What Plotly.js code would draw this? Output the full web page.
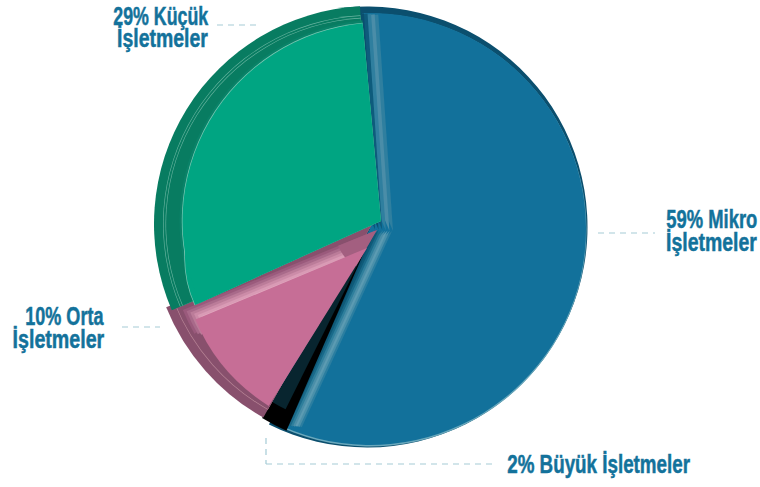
<!DOCTYPE html>
<html><head><meta charset="utf-8">
<script src="https://cdn.plot.ly/plotly-3.0.1.min.js"></script>
<style>html,body{margin:0;padding:0;background:#fff}#c{width:760px;height:487px}
.annotation-text{stroke:#13729b;stroke-width:0.5px}</style>
</head><body><div id="c"></div>
<script>
var categories = ["Mikro İşletmeler","Büyük İşletmeler","Orta İşletmeler","Küçük İşletmeler"];
var sharePct = [59,2,10,29];
var W=760,H=487;
var traces=[];
function wedge(i,cx,cy,r,color,start,f){
  var sweep=sharePct[i]*3.6*(f||1);
  traces.push({type:'pie',sort:false,direction:'clockwise',rotation:(start+720)%360,
    values:[sweep,360-sweep],marker:{colors:[color,'rgba(0,0,0,0)'],line:{width:0}},
    textinfo:'none',hoverinfo:'skip',showlegend:false,
    domain:{x:[(cx-r)/W,(cx+r)/W],y:[1-(cy+r)/H,1-(cy-r)/H]}});
}
// Blue
wedge(0,367,227,220.5,'#0b4f6e',-6,1);
wedge(0,370,230,216.5,'#6aa8bc',-2,0.985);
wedge(0,370,229,216,'#12719b',-2,0.985);
['#2b7ea0','#4a90aa','#5c9bb2','#4a8ea8','#2f7f9c','#1a6a8a','#0f5a78','#0b4f6e'].forEach(function(c,k){ wedge(0,392-k*2.2,231-k*0.2,216,c,204.7,0.1); });
['#2f7f9f','#4a8da8','#2f7f9f','#0e5b7c','#0a4f6f','#0a4f6f'].forEach(function(c,k){ wedge(0,393-k*3.6,231-k*0.3,217,c,-23,0.09); });
// Black
wedge(1,365,250,197,'#000000',203.5,1.11);
wedge(1,365,250,178,'#08252f',206.5,0.7);
// Pink
wedge(2,372,224,222,'#88506d',209.3,1.075);
wedge(2,372,224,213,'#b89',209.3,1.075);
wedge(2,372,224,212.4,'#88506d',209.3,1.075);
['#9a5a7c','#a86a8a','#bb7c99','#cc8ca8','#d99bb5','#e3a9c0'].forEach(function(c,k){ wedge(2,377-k*2,230+k*3.6,210-k*6.2,c,240.4,0.2); });
wedge(2,377,230,42,'#a35f80',210,1.05);
wedge(2,367,248,186,'#c66e96',211.9,0.985);
// Green
wedge(3,372,224,218,'#087c61',246.7,1.055);
wedge(3,372,224,209,'#6bb6a2',246.7,1.055);
wedge(3,372,224,208.4,'#087c61',246.7,1.055);
wedge(3,372,224,206.5,'#6bb6a2',246.7,1.055);
wedge(3,372,224,205.9,'#087c61',246.7,1.055);
wedge(3,381,221,201.5,'#0a8268',245.7,1.044);
wedge(3,300,257.6,115.7,'#7cc8b4',245.7,0.27);
wedge(3,381,221,199.2,'#7cc8b4',245.7,1.044);
wedge(3,300,257.6,115,'#00a582',245.7,0.27);
wedge(3,381,221,198.5,'#00a582',245.7,1.044);

var blue='#13729b', font='"Liberation Sans",sans-serif';
var labelText=['29% Küçük','İşletmeler','59% Mikro','İşletmeler','10% Orta','İşletmeler','2% Büyük İşletmeler'];
var labelLeft=[113,117,666,666,25,12,507];
var labelRight=[208,208,757,757,104,104,690];
var labelY=[16,38,219,242,316,339,464];
var annotations=labelText.map(function(t,i){return {xref:'paper',yref:'paper',x:(labelLeft[i]+labelRight[i])/2/W,y:1-labelY[i]/H,text:'<b>'+t+'</b>',showarrow:false,xanchor:'center',yanchor:'middle',font:{family:font,size:25,color:blue}};});
function seg(x0,y0,x1,y1){return {type:'line',xref:'paper',yref:'paper',x0:x0/W,x1:x1/W,y0:1-y0/H,y1:1-y1/H,line:{color:'#a5cbd6',width:1.2,dash:'6px,5px'}};}
var shapes=[seg(217,25,256,25),seg(598,233,655,233),seg(122,327,160,327),seg(266,438,266,464),seg(266,464,497,464)];
Plotly.newPlot('c',traces,{width:W,height:H,margin:{l:0,r:0,t:0,b:0},paper_bgcolor:'#fff',showlegend:false,annotations:annotations,shapes:shapes},{displayModeBar:false,staticPlot:true}).then(function(){
  document.querySelectorAll('#c .annotation-text').forEach(function(el,i){
    var w=labelRight[i]-labelLeft[i];
    var bb=el.getBBox();
    var cx=bb.x+bb.width/2, sx=w/bb.width;
    el.setAttribute('transform','translate('+cx+' 0) scale('+sx+' 1) translate('+(-cx)+' 0)');
  });
});
</script></body></html>
